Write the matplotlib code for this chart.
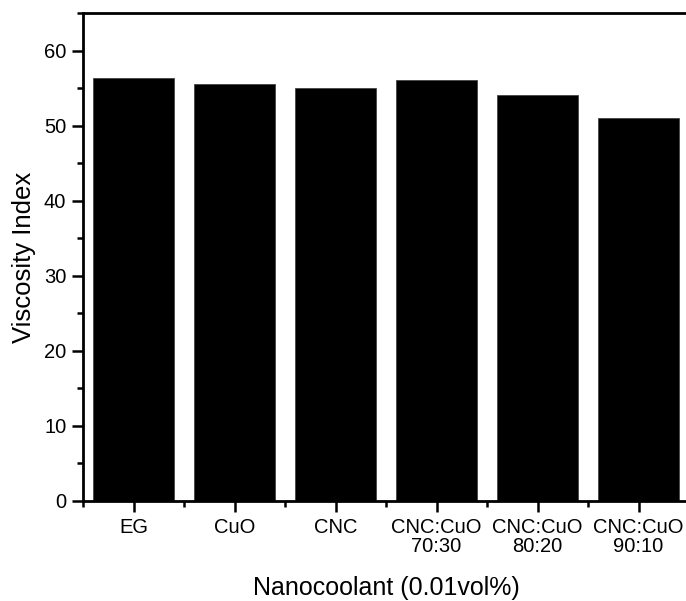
import matplotlib
matplotlib.use("Agg")
import matplotlib.pyplot as plt
from matplotlib.ticker import MultipleLocator, FixedLocator

categories = ["EG", "CuO", "CNC", "CNC:CuO\n70:30", "CNC:CuO\n80:20", "CNC:CuO\n90:10"]
viscosity_index = [56.4, 55.6, 55.1, 56.1, 54.1, 51.0]

plt.rcParams['font.family'] = ['Liberation Sans', 'DejaVu Sans']

fig = plt.figure(figsize=(6.86, 6.01), dpi=100)
ax = fig.add_axes([0.121, 0.1664, 0.8834, 0.8116])

x = list(range(len(categories)))
ax.bar(x, viscosity_index, width=0.81, color='black', edgecolor='#444444', linewidth=0.6)

ax.set_xlim(-0.5, len(categories) - 0.5)
ax.set_ylim(0, 65)
ax.yaxis.set_major_locator(MultipleLocator(10))
ax.yaxis.set_minor_locator(MultipleLocator(5))
ax.set_xticks(x)
ax.set_xticklabels(categories, fontsize=14.5, linespacing=1.05)
ax.xaxis.set_minor_locator(FixedLocator([i + 0.5 for i in range(-1, len(categories))]))
ax.tick_params(axis='y', labelsize=14.5)

for s in ax.spines.values():
    s.set_linewidth(2)
ax.tick_params(which='major', direction='out', length=8, width=1.8, pad=4)
ax.tick_params(which='minor', direction='out', length=4, width=1.8)

ax.set_xlabel("Nanocoolant (0.01vol%)", fontsize=18, labelpad=14)
ax.set_ylabel("Viscosity Index", fontsize=18.5, labelpad=6)

fig.savefig("out.png", dpi=100)
